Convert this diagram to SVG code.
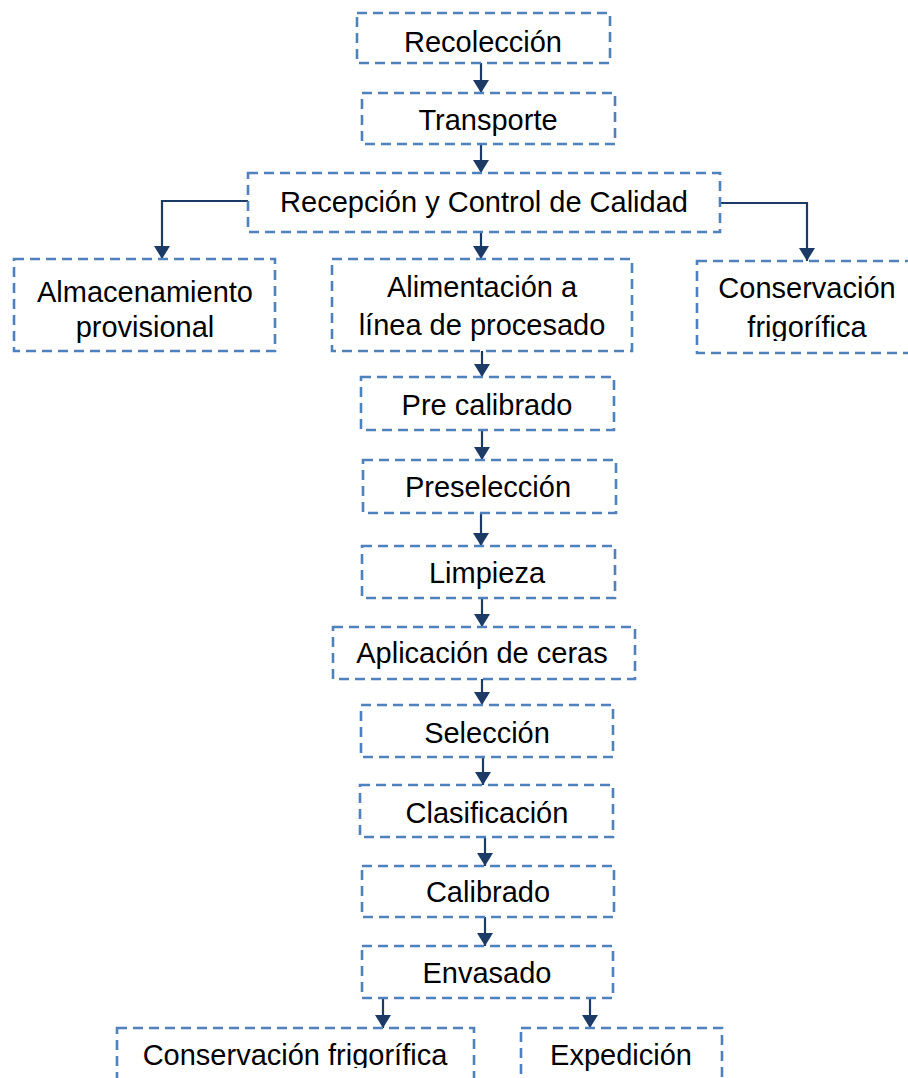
<svg xmlns="http://www.w3.org/2000/svg" width="908" height="1078" viewBox="0 0 908 1078">
<style>
.box{fill:#fff;stroke:#4F81BD;stroke-width:2.6;stroke-dasharray:10 6}
.t{font-family:"Liberation Sans",Arial,sans-serif;font-size:29px;fill:#000;text-anchor:middle}
.c{fill:none;stroke:#1B3A66;stroke-width:2.2}
</style>
<defs>
<marker id="ah" markerUnits="userSpaceOnUse" markerWidth="13" markerHeight="16" viewBox="0 0 13 16" refX="13" refY="8" orient="auto">
<path d="M0,0 L13,8 L0,16 z" fill="#1B3A66"/>
</marker>
<clipPath id="clipR"><rect x="690" y="255" width="230" height="86"/></clipPath>
<clipPath id="clipB"><rect x="110" y="1020" width="380" height="48"/></clipPath>
</defs>
<rect width="908" height="1078" fill="#fff"/>
<g id="connectors">
<path class="c" d="M481,63 V93" marker-end="url(#ah)"/>
<path class="c" d="M481,144 V173" marker-end="url(#ah)"/>
<path class="c" d="M481,232 V259" marker-end="url(#ah)"/>
<path class="c" d="M248,201 H162 V259" marker-end="url(#ah)"/>
<path class="c" d="M720,203 H807 V261" marker-end="url(#ah)"/>
<path class="c" d="M482,351 V377" marker-end="url(#ah)"/>
<path class="c" d="M482,430 V460" marker-end="url(#ah)"/>
<path class="c" d="M481,513 V546" marker-end="url(#ah)"/>
<path class="c" d="M482,598 V627" marker-end="url(#ah)"/>
<path class="c" d="M482,679 V705" marker-end="url(#ah)"/>
<path class="c" d="M483,757 V785" marker-end="url(#ah)"/>
<path class="c" d="M485,837 V866" marker-end="url(#ah)"/>
<path class="c" d="M485,917 V946" marker-end="url(#ah)"/>
<path class="c" d="M383,998 V1028" marker-end="url(#ah)"/>
<path class="c" d="M590,998 V1028" marker-end="url(#ah)"/>
</g>
<g id="recoleccion"><rect class="box" x="357" y="13" width="253" height="50"/><text class="t" x="483" y="52">Recolección</text></g>
<g id="transporte"><rect class="box" x="362" y="93" width="253" height="51"/><text class="t" x="488" y="130">Transporte</text></g>
<g id="recepcion"><rect class="box" x="248" y="173" width="472" height="59"/><text class="t" x="484" y="212">Recepción y Control de Calidad</text></g>
<g id="almacenamiento"><rect class="box" x="14" y="259" width="261" height="92"/><text class="t" x="145" y="302">Almacenamiento</text><text class="t" x="145" y="337">provisional</text></g>
<g id="alimentacion"><rect class="box" x="332" y="259" width="300" height="92"/><text class="t" x="482" y="297">Alimentación a</text><text class="t" x="482" y="335">línea de procesado</text></g>
<g id="conservacion1"><rect class="box" x="697" y="261" width="222" height="92"/><text class="t" x="807" y="298">Conservación</text><text class="t" x="807" y="337" clip-path="url(#clipR)">frigorífica</text></g>
<g id="precalibrado"><rect class="box" x="361" y="377" width="253" height="53"/><text class="t" x="487" y="415">Pre calibrado</text></g>
<g id="preseleccion"><rect class="box" x="363" y="460" width="253" height="53"/><text class="t" x="488" y="497">Preselección</text></g>
<g id="limpieza"><rect class="box" x="362" y="546" width="253" height="52"/><text class="t" x="487" y="583">Limpieza</text></g>
<g id="aplicacion"><rect class="box" x="333" y="627" width="302" height="52"/><text class="t" x="482" y="663">Aplicación de ceras</text></g>
<g id="seleccion"><rect class="box" x="361" y="705" width="252" height="52"/><text class="t" x="487" y="743">Selección</text></g>
<g id="clasificacion"><rect class="box" x="360" y="785" width="253" height="52"/><text class="t" x="487" y="823">Clasificación</text></g>
<g id="calibrado"><rect class="box" x="362" y="866" width="252" height="51"/><text class="t" x="488" y="902">Calibrado</text></g>
<g id="envasado"><rect class="box" x="362" y="946" width="251" height="52"/><text class="t" x="487" y="983">Envasado</text></g>
<g id="conservacion2"><rect class="box" x="117" y="1028" width="357" height="70"/><text class="t" x="295" y="1065" clip-path="url(#clipB)">Conservación frigorífica</text></g>
<g id="expedicion"><rect class="box" x="521" y="1028" width="201" height="70"/><text class="t" x="621" y="1065">Expedición</text></g>
</svg>
